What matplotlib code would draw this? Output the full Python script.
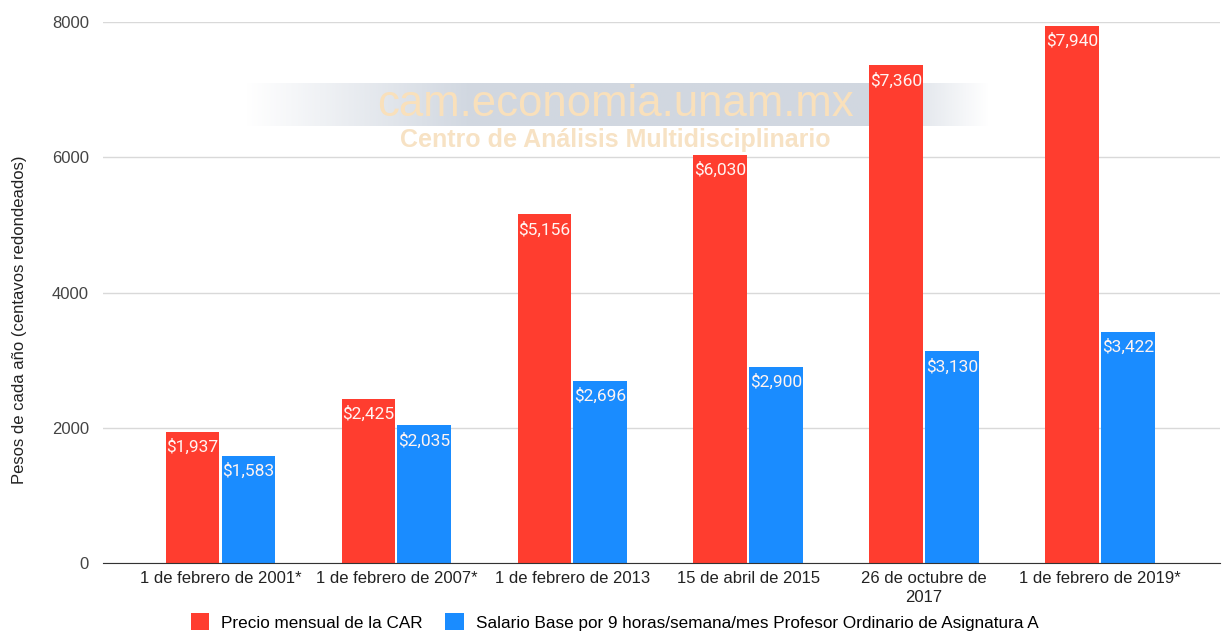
import numpy as np
import matplotlib
matplotlib.use('Agg')
import matplotlib.pyplot as plt
from matplotlib.patches import Patch

plt.rcParams['font.family'] = ['Liberation Sans', 'DejaVu Sans']

fechas = ['1 de febrero de 2001*', '1 de febrero de 2007*', '1 de febrero de 2013',
          '15 de abril de 2015', '26 de octubre de\n2017', '1 de febrero de 2019*']
precio_car = [1937, 2425, 5156, 6030, 7360, 7940]
salario_base = [1583, 2035, 2696, 2900, 3130, 3422]
series = ['Precio mensual de la CAR',
          'Salario Base por 9 horas/semana/mes Profesor Ordinario de Asignatura A']

rojo = '#ff3d2f'
azul = '#1a8cff'

fig = plt.figure(figsize=(12.22, 6.34), dpi=100)
ax = fig.add_axes([0.084, 0.112, 0.914, 0.853])

x = np.arange(len(fechas))
w = 0.305
b1 = ax.bar(x - w / 2 - 0.006, precio_car, w, color=rojo, zorder=3)
b2 = ax.bar(x + w / 2 + 0.006, salario_base, w, color=azul, zorder=3)

for bars, vals in ((b1, precio_car), (b2, salario_base)):
    for r, v in zip(bars, vals):
        ax.text(r.get_x() + r.get_width() / 2, v - 100, '${:,}'.format(v),
                ha='center', va='top', color='#fff4f2', fontsize=12.5,
                family=['Roboto', 'DejaVu Sans'], zorder=4)

ax.set_ylim(0, 8000)
ax.set_xlim(-0.67, 5.68)
ax.set_yticks([0, 2000, 4000, 6000, 8000])
ax.set_xticks(x)
ax.set_xticklabels(fechas, fontsize=12, color='#222222', linespacing=1.3)
ax.tick_params(axis='y', labelsize=12, labelcolor='#444444', length=0, pad=10)
ax.tick_params(axis='x', length=0, pad=6)
ax.grid(axis='y', color='#d9d9d9', linewidth=1, zorder=0)
for s in ['top', 'right', 'left']:
    ax.spines[s].set_visible(False)
ax.spines['bottom'].set_color('#333333')
ax.spines['bottom'].set_zorder(5)
ax.set_ylabel('Pesos de cada año (centavos redondeados)', fontsize=12, color='#222222')
ax.yaxis.set_label_coords(-0.068, 0.45)

# marca de agua
grad = np.ones((1, 300, 4))
grad[..., 0] = 0.80
grad[..., 1] = 0.83
grad[..., 2] = 0.87
t = np.linspace(0, 1, 300)
grad[0, :, 3] = np.clip(np.minimum(t / 0.3, (1 - t) / 0.15), 0, 1) * 0.9
wax = fig.add_axes([245 / 1222, 1 - 126 / 634, 745 / 1222, 43 / 634], zorder=0.5)
wax.imshow(grad, aspect='auto', interpolation='bilinear')
wax.axis('off')
ax.set_zorder(1)
ax.patch.set_visible(False)
fig.text(615 / 1222, 1 - 104 / 634, 'cam.economia.unam.mx', ha='center', va='center',
         fontsize=31.5, color='#f9e0bb', zorder=2)
fig.text(615 / 1222, 1 - 140 / 634, 'Centro de Análisis Multidisciplinario', ha='center',
         va='center', fontsize=18, fontweight='bold', color='#f7e2c4', zorder=2)

handles = [Patch(facecolor=rojo), Patch(facecolor=azul)]
fig.legend(handles, series, loc='center', bbox_to_anchor=(0.503, 1 - 622 / 634), ncol=2,
           frameon=False, fontsize=12.3, handlelength=1.1, handleheight=1.1,
           handletextpad=0.7, columnspacing=1.3)

fig.savefig('out.png', dpi=100)
